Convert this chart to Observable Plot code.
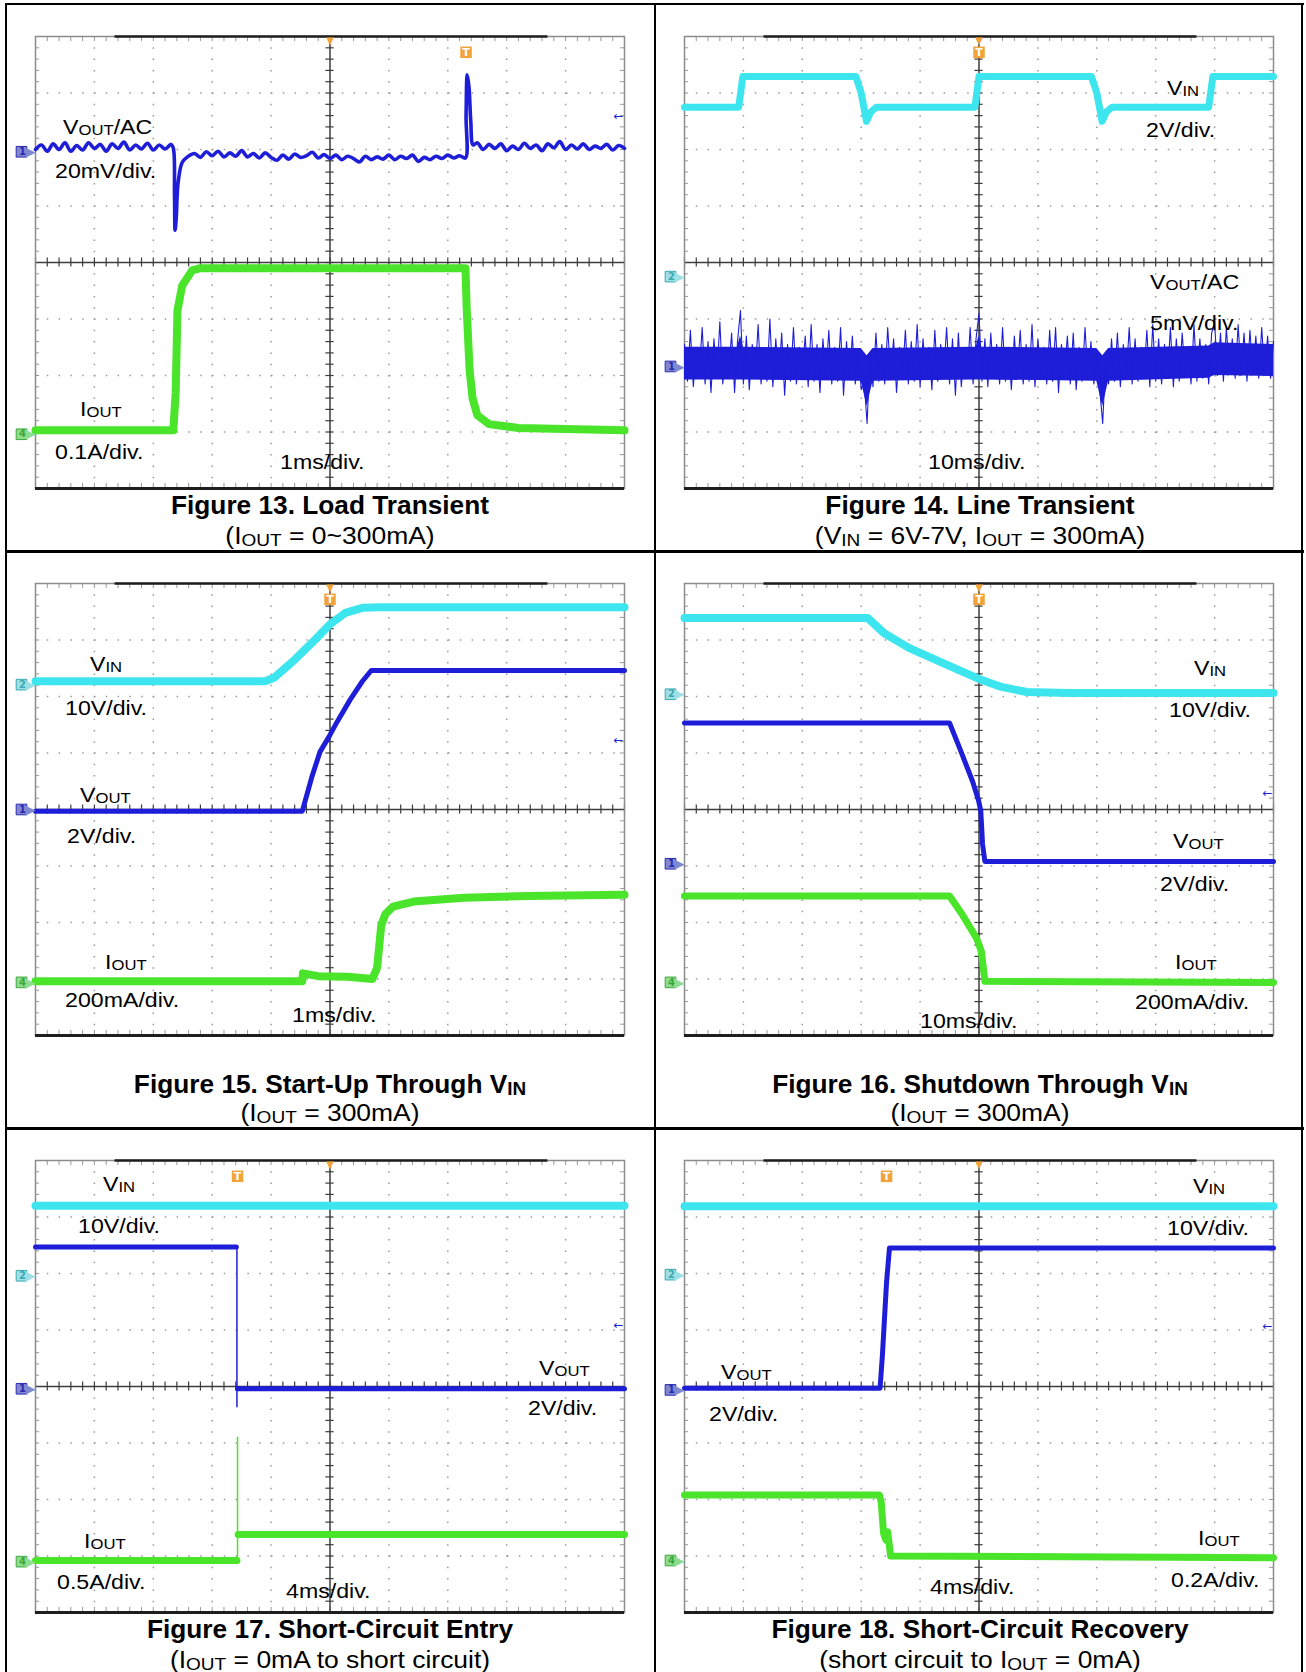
<!DOCTYPE html>
<html><head><meta charset="utf-8">
<script src="https://cdn.jsdelivr.net/npm/d3@7"></script>
<script src="https://cdn.jsdelivr.net/npm/@observablehq/plot@0.6"></script>
<style>
body{margin:0;background:#fff;}
#page{position:relative;width:1306px;height:1672px;overflow:hidden;background:#fff;font-family:"Liberation Sans",Arial,Helvetica,sans-serif;color:#000;}
.rule{position:absolute;background:#000;}
.lab{position:absolute;white-space:nowrap;line-height:1;font-size:20.5px;transform-origin:0 50%;transform:translateY(-50%) scaleX(1.13);}
.sub{font-size:0.72em;position:relative;top:0.1em;}
.cap{position:absolute;white-space:nowrap;line-height:1;font-weight:bold;font-size:25px;transform-origin:50% 50%;transform:translate(-50%,-50%) scaleX(1.05);}
.subcap{position:absolute;white-space:nowrap;line-height:1;font-size:23px;transform-origin:50% 50%;transform:translate(-50%,-50%) scaleX(1.15);}
</style></head><body><div id="page"></div>
<script>
// ---------- colours ----------
const CYAN = "#3de6ef", BLUE = "#1e1ed8", GREEN = "#4ae42a", ORANGE = "#f2a33a";

// ---------- Figure 13: Load transient (divisions: x 0..10, y -4..4) ----------
const fig13Vout = [[0,2.0],[0.1,2.08],[0.2,1.97],[0.3,2.1],[0.4,2.0],[0.5,2.12],[0.6,1.97],[0.7,2.07],[0.8,1.99],[0.9,2.12],[1.0,2.02],[1.1,2.09],[1.2,1.97],[1.3,2.1],[1.4,2.02],[1.5,2.13],[1.6,1.99],[1.7,2.08],[1.8,2.01],[1.9,2.11],[2.0,1.99],[2.1,2.08],[2.2,2.01],[2.3,2.09],[2.34,2.02],
[2.36,1.2],[2.37,0.57],[2.39,0.8],[2.42,1.4],[2.49,1.77],[2.58,1.87],[2.7,1.93],[2.8,1.86],[2.9,1.96],[3.0,1.89],[3.1,1.97],[3.2,1.87],[3.3,1.94],[3.4,1.88],[3.5,1.98],[3.6,1.87],[3.7,1.93],[3.8,1.85],[3.9,1.94],[4.0,1.86],[4.1,1.81],[4.2,1.9],[4.3,1.83],[4.4,1.92],[4.5,1.86],[4.6,1.89],[4.7,1.95],[4.8,1.85],[4.9,1.91],[5.0,1.84],[5.1,1.9],[5.2,1.82],[5.3,1.88],[5.4,1.84],[5.5,1.78],[5.6,1.88],[5.7,1.82],[5.8,1.87],[5.9,1.83],[6.0,1.9],[6.1,1.82],[6.2,1.88],[6.3,1.84],[6.4,1.9],[6.5,1.79],[6.6,1.86],[6.7,1.82],[6.8,1.88],[6.9,1.84],[7.0,1.9],[7.1,1.85],[7.2,1.89],[7.3,1.85],
[7.31,2.6],[7.33,3.32],[7.36,3.1],[7.39,2.5],[7.43,2.08],[7.5,2.12],[7.6,2.0],[7.7,2.09],[7.8,2.02],[7.9,2.1],[8.0,1.98],[8.1,2.06],[8.2,2.0],[8.3,2.11],[8.4,2.02],[8.5,2.08],[8.6,1.98],[8.7,2.1],[8.8,2.03],[8.9,2.14],[9.0,2.0],[9.1,2.08],[9.2,2.01],[9.3,2.1],[9.4,2.0],[9.5,2.06],[9.6,2.02],[9.7,2.09],[9.8,1.99],[9.9,2.07],[10,2.02]];
const fig13Iout = [[0,-2.97],[2.34,-2.97],[2.38,-2.3],[2.41,-0.85],[2.49,-0.41],[2.66,-0.14],[2.8,-0.1],[7.3,-0.1],[7.32,-0.8],[7.37,-1.9],[7.42,-2.4],[7.5,-2.7],[7.7,-2.86],[8.2,-2.93],[10,-2.97]];

// ---------- Figure 14: Line transient ----------
const fig14Vin = [[0,2.75],[0.92,2.75],[0.99,3.29],[2.91,3.29],[3.0,3.0],[3.09,2.5],[3.16,2.66],[3.26,2.75],[4.93,2.75],[5.0,3.29],[6.91,3.29],[7.0,3.0],[7.09,2.5],[7.16,2.66],[7.26,2.75],[8.9,2.75],[8.97,3.29],[10,3.29]];
// V_OUT/AC noise samples, one every 0.05 div
const fig14VoutNoise = [
-1.45,-2.10,-1.20,-2.20,-1.50,-2.00,-1.15,-2.15,-1.40,-2.30,-1.35,-2.05,-1.05,-2.15,-1.50,-1.95,-1.25,-2.30,-1.40,-0.85,
-2.15,-1.30,-2.25,-1.45,-2.00,-1.10,-2.15,-1.50,-2.10,-1.00,-2.20,-1.35,-2.05,-1.25,-2.35,-1.45,-2.10,-1.15,-2.15,-1.50,
-1.95,-1.30,-2.20,-1.10,-2.10,-1.45,-2.30,-1.35,-2.05,-1.20,-2.15,-1.50,-2.10,-1.15,-2.35,-1.40,-2.05,-1.30,-2.15,-1.55,
-2.25,-2.10,-2.85,-1.65,-2.20,-1.25,-2.10,-1.45,-2.15,-1.15,-2.00,-1.35,-2.30,-1.50,-2.05,-1.20,-2.15,-1.40,-2.10,-1.10,
-2.20,-1.35,-2.05,-1.50,-2.25,-1.20,-2.10,-1.45,-2.00,-1.15,-2.15,-1.35,-2.35,-1.25,-2.20,-1.50,-2.05,-1.15,-2.15,-1.35,
-0.90,-2.10,-1.35,-2.20,-1.25,-2.05,-1.45,-2.15,-1.15,-2.10,-1.50,-2.25,-1.30,-2.00,-1.20,-2.15,-1.45,-2.10,-1.10,-2.20,
-1.35,-2.05,-1.50,-2.15,-1.20,-2.10,-1.15,-2.30,-1.45,-2.00,-1.30,-2.15,-1.25,-2.25,-1.50,-2.10,-1.15,-2.05,-1.40,-2.15,
-1.55,-2.25,-2.85,-1.70,-2.15,-1.35,-2.10,-1.25,-2.20,-1.45,-2.05,-1.15,-2.15,-1.35,-2.10,-1.50,-2.00,-1.20,-2.20,-1.10,
-2.10,-1.35,-2.15,-1.45,-2.05,-1.15,-2.20,-1.35,-2.10,-1.25,-2.00,-1.50,-2.15,-1.10,-2.10,-1.35,-2.05,-1.45,-2.15,-1.25,
-1.05,-2.00,-1.25,-2.10,-1.15,-1.95,-1.35,-2.05,-1.10,-2.00,-1.25,-2.10,-1.20,-1.95,-1.30,-2.05,-1.15,-2.00,-1.30,-2.05,-1.40];
const fig14VoutCore = [[0,-1.5,-2.08],[0.9,-1.5,-2.08],[0.95,-1.3,-2.08],[1.0,-1.5,-2.08],[3.0,-1.52,-2.1],[3.1,-1.65,-2.55],[3.2,-1.52,-2.1],[4.95,-1.5,-2.08],[5.0,-1.3,-2.08],[5.05,-1.5,-2.08],[7.0,-1.52,-2.1],[7.1,-1.65,-2.55],[7.2,-1.52,-2.1],[8.9,-1.48,-2.05],[9.0,-1.42,-2.0],[10,-1.45,-2.02]];

// ---------- Figure 15: Start-up through VIN ----------
const fig15Vin = [[0,2.27],[3.9,2.27],[4.05,2.33],[4.41,2.66],[4.76,3.02],[5.0,3.28],[5.26,3.48],[5.55,3.57],[5.85,3.58],[10,3.58]];
const fig15Vout = [[0,-0.03],[4.53,-0.03],[4.69,0.57],[4.83,1.02],[5.0,1.32],[5.12,1.55],[5.34,1.94],[5.55,2.27],[5.7,2.46],[10,2.46]];
const fig15Iout = [[0,-3.04],[4.53,-3.04],[4.54,-2.9],[4.8,-2.95],[5.3,-2.96],[5.72,-3.0],[5.8,-2.8],[5.87,-2.05],[5.94,-1.85],[6.07,-1.72],[6.42,-1.63],[7.27,-1.56],[8.34,-1.53],[10,-1.51]];

// ---------- Figure 16: Shutdown through VIN ----------
const fig16Vin = [[0,3.39],[3.11,3.39],[3.39,3.12],[3.81,2.86],[4.39,2.59],[4.98,2.32],[5.38,2.17],[5.81,2.08],[6.52,2.06],[10,2.06]];
const fig16Vout = [[0,1.53],[4.5,1.53],[4.67,1.09],[4.89,0.5],[4.99,0.17],[5.03,-0.02],[5.06,-0.61],[5.1,-0.92],[10,-0.92]];
const fig16Iout = [[0,-1.53],[4.5,-1.53],[4.71,-1.85],[4.96,-2.28],[5.04,-2.51],[5.1,-3.04],[10,-3.06]];

// ---------- Figure 17: Short-circuit entry ----------
const fig17Vin = [[0,3.2],[10,3.2]];
const fig17Vout = [[0,2.47],[3.41,2.47]];
const fig17VoutEdge = [[3.42,2.47],[3.42,-0.36]];
const fig17VoutAfter = [[3.43,-0.04],[10,-0.04]];
const fig17Iout = [[0,-3.08],[3.42,-3.08]];
const fig17IoutEdge = [[3.43,-3.08],[3.43,-0.9]];
const fig17IoutAfter = [[3.44,-2.62],[10,-2.62]];

// ---------- Figure 18: Short-circuit recovery ----------
const fig18Vin = [[0,3.19],[10,3.19]];
const fig18Vout = [[0,-0.03],[3.32,-0.03],[3.36,0.55],[3.43,1.84],[3.48,2.45],[10,2.45]];
const fig18Iout = [[0,-1.92],[3.31,-1.92],[3.34,-2.05],[3.38,-2.6],[3.42,-2.72],[3.45,-2.57],[3.5,-3.0],[10,-3.03]];

// ---------- text ----------
const labels13 = [["V_{OUT}/AC",63,127],["20mV/div.",55,171],["I_{OUT}",80,409],["0.1A/div.",55,452],["1ms/div.",280,462]];
const labels14 = [["V_{IN}",1167,88],["2V/div.",1146,130],["V_{OUT}/AC",1150,282],["5mV/div.",1150,323],["10ms/div.",928,462]];
const labels15 = [["V_{IN}",90,664],["10V/div.",65,708],["V_{OUT}",80,795],["2V/div.",67,836],["I_{OUT}",105,962],["200mA/div.",65,1000],["1ms/div.",292,1015]];
const labels16 = [["V_{IN}",1194,668],["10V/div.",1169,710],["V_{OUT}",1173,841],["2V/div.",1160,884],["I_{OUT}",1175,962],["200mA/div.",1135,1002],["10ms/div.",920,1021]];
const labels17 = [["V_{IN}",103,1184],["10V/div.",78,1226],["V_{OUT}",539,1368],["2V/div.",528,1408],["I_{OUT}",84,1541],["0.5A/div.",57,1582],["4ms/div.",286,1591]];
const labels18 = [["V_{IN}",1193,1186],["10V/div.",1167,1228],["V_{OUT}",721,1372],["2V/div.",709,1414],["I_{OUT}",1198,1538],["0.2A/div.",1171,1580],["4ms/div.",930,1587]];
const captionTitles = ["Figure 13. Load Transient","Figure 14. Line Transient","Figure 15. Start-Up Through V_{IN}","Figure 16. Shutdown Through V_{IN}","Figure 17. Short-Circuit Entry","Figure 18. Short-Circuit Recovery"];
const captionSubs = ["(I_{OUT} = 0~300mA)","(V_{IN} = 6V-7V, I_{OUT} = 300mA)","(I_{OUT} = 300mA)","(I_{OUT} = 300mA)","(I_{OUT} = 0mA to short circuit)","(short circuit to I_{OUT} = 0mA)"];

// ---------- layout ----------
const FW = 589, FH = 452, ML = 30, MR = 14, MT = 8, MB = 8;
const gridX = [1,2,3,4,6,7,8,9], gridY = [-3,-2,-1,1,2,3];
const minorX = d3.range(0, 51).map(i => i / 5), minorY = d3.range(0, 41).map(i => -4 + i / 5);

const tr = (data, color, w, curve) => ({data, color, w, curve});
const panels = [
  {left:35, top:36, labels:labels13, capX:330, capY:505, subY:536,
   traces:[tr(fig13Iout,GREEN,8), tr(fig13Vout,BLUE,3.6,"catmull-rom")],
   chans:[["1",1.96,"#8088d0","#2a2ab0"],["4",-3.04,"#8fdc8f","#3aa83a"]], trig:7.31, arrow:2.59},
  {left:684, top:36, labels:labels14, capX:980, capY:505, subY:536,
   traces:[tr(fig14Vin,CYAN,7)], noise:true,
   chans:[["2",-0.25,"#9fe0e6","#3aa9b0"],["1",-1.84,"#8088d0","#2a2ab0"]], trig:5, arrow:null},
  {left:35, top:582.5, labels:labels15, capX:330, capY:1084, subY:1113,
   traces:[tr(fig15Vin,CYAN,8), tr(fig15Vout,BLUE,5), tr(fig15Iout,GREEN,8)],
   chans:[["2",2.21,"#9fe0e6","#3aa9b0"],["1",0,"#8088d0","#2a2ab0"],["4",-3.06,"#8fdc8f","#3aa83a"]], trig:5, arrow:1.22},
  {left:684, top:582.5, labels:labels16, capX:980, capY:1084, subY:1113,
   traces:[tr(fig16Vin,CYAN,8), tr(fig16Vout,BLUE,5), tr(fig16Iout,GREEN,7)],
   chans:[["2",2.04,"#9fe0e6","#3aa9b0"],["1",-0.96,"#8088d0","#2a2ab0"],["4",-3.06,"#8fdc8f","#3aa83a"]], trig:5, arrow:0.29},
  {left:35, top:1159.5, labels:labels17, capX:330, capY:1629, subY:1660,
   traces:[tr(fig17Vin,CYAN,8), tr(fig17Vout,BLUE,5), tr(fig17VoutEdge,BLUE,1.5), tr(fig17VoutAfter,BLUE,5),
           tr(fig17Iout,GREEN,7), tr(fig17IoutEdge,GREEN,1.5), tr(fig17IoutAfter,GREEN,7)],
   chans:[["2",1.96,"#9fe0e6","#3aa9b0"],["1",-0.04,"#8088d0","#2a2ab0"],["4",-3.1,"#8fdc8f","#3aa83a"]], trig:3.43, arrow:1.09},
  {left:684, top:1159.5, labels:labels18, capX:980, capY:1629, subY:1660,
   traces:[tr(fig18Vin,CYAN,8), tr(fig18Vout,BLUE,5), tr(fig18Iout,GREEN,7)],
   chans:[["2",1.98,"#9fe0e6","#3aa9b0"],["1",-0.06,"#8088d0","#2a2ab0"],["4",-3.08,"#8fdc8f","#3aa83a"]], trig:3.43, arrow:1.07}
];

function scope(p) {
  const marks = [
    Plot.ruleX(gridX, {stroke:"#9a9a9a", strokeWidth:1.5, strokeDasharray:"1.5,9.8"}),
    Plot.ruleY(gridY, {stroke:"#9a9a9a", strokeWidth:1.5, strokeDasharray:"1.5,10.3"}),
    Plot.ruleX(minorX, {y1:-4, y2:-3.91, stroke:"#999"}),
    Plot.ruleX(minorX, {y1:3.91, y2:4, stroke:"#999"}),
    Plot.ruleY(minorY, {x1:0, x2:0.07, stroke:"#999"}),
    Plot.ruleY(minorY, {x1:9.93, x2:10, stroke:"#999"}),
    Plot.ruleX([5], {stroke:"#3c3c3c", strokeWidth:1.5}),
    Plot.ruleY([0], {stroke:"#3c3c3c", strokeWidth:1.5}),
    Plot.ruleX(minorX, {y1:-0.08, y2:0.08, stroke:"#3c3c3c", strokeWidth:1.2}),
    Plot.ruleY(minorY, {x1:4.93, x2:5.07, stroke:"#3c3c3c", strokeWidth:1.2}),
    Plot.frame({stroke:"#8c8c8c", strokeWidth:1.5}),
    Plot.ruleY([-4], {stroke:"#1e1e1e", strokeWidth:3}),
    Plot.ruleY([4], {x1:1.35, x2:8.7, stroke:"#1e1e1e", strokeWidth:2.5})
  ];
  if (p.noise) {
    marks.push(Plot.areaY(fig14VoutCore, {x:d=>d[0], y1:d=>d[1], y2:d=>d[2], fill:BLUE}));
    marks.push(Plot.line(fig14VoutNoise, {x:(d,i)=>i*0.05, y:d=>d, stroke:BLUE, strokeWidth:1.1}));
  }
  for (const t of p.traces) {
    marks.push(Plot.line(t.data, {x:d=>d[0], y:d=>d[1], stroke:t.color, strokeWidth:t.w, strokeLinejoin:"round", curve:t.curve || "linear"}));
  }
  for (const [ch, y, fill, stroke] of p.chans) {
    marks.push(Plot.dot([y], {x:0, y:d=>d, dx:-14, symbol:"square", r:6, fill, stroke, strokeWidth:1}));
    marks.push(Plot.text([y], {x:0, y:d=>d, dx:-5, text:()=>"\u25B6", fill, fontSize:13, fontFamily:"DejaVu Sans"}));
    marks.push(Plot.text([y], {x:0, y:d=>d, dx:-13, text:()=>ch, fill:stroke, fontSize:10, fontWeight:"bold", fontFamily:"DejaVu Sans"}));
  }
  marks.push(Plot.text([5], {x:d=>d, y:4, dy:4, text:()=>"\u25BC", fill:ORANGE, fontSize:10, fontFamily:"DejaVu Sans"}));
  marks.push(Plot.dot([p.trig], {x:d=>d, y:3.72, symbol:"square", r:6.5, fill:ORANGE}));
  marks.push(Plot.text([p.trig], {x:d=>d, y:3.72, text:()=>"T", fill:"#fff", fontSize:11, fontWeight:"bold", fontFamily:"DejaVu Sans"}));
  if (p.arrow != null) {
    marks.push(Plot.text([p.arrow], {x:10, y:d=>d, dx:-6, text:()=>"\u2190", fill:BLUE, fontSize:12, fontFamily:"DejaVu Sans"}));
  }
  return Plot.plot({
    width: ML + FW + MR, height: MT + FH + MB,
    marginLeft: ML, marginRight: MR, marginTop: MT, marginBottom: MB,
    x: {domain:[0,10], axis:null}, y: {domain:[-4,4], axis:null},
    style: {background:"transparent", overflow:"visible"},
    marks
  });
}

const page = document.getElementById("page");
function rule(l, t, w, h) { const d = document.createElement("div"); d.className = "rule"; Object.assign(d.style, {left:l+"px", top:t+"px", width:w+"px", height:h+"px"}); page.appendChild(d); }
rule(4.5, 2.5, 2.5, 1680); rule(1300.5, 2.5, 2.5, 1680); rule(4.5, 2.5, 1299, 2.5);
rule(653.8, 2.5, 2.5, 1680); rule(4.5, 550, 1299, 2.5); rule(4.5, 1127, 1299, 2.5);

const fmt = s => s.replace(/_\{([^}]*)\}/g, '<span class="sub">$1</span>');
function text(cls, s, x, y) { const d = document.createElement("div"); d.className = cls; d.innerHTML = fmt(s); d.style.left = x + "px"; d.style.top = y + "px"; page.appendChild(d); }

panels.forEach((p, i) => {
  const svg = scope(p);
  svg.style.position = "absolute";
  svg.style.left = (p.left - ML) + "px";
  svg.style.top = (p.top - MT) + "px";
  page.appendChild(svg);
  for (const [s, x, y] of p.labels) text("lab", s, x, y);
  text("cap", captionTitles[i], p.capX, p.capY);
  text("subcap", captionSubs[i], p.capX, p.subY);
});
</script></body></html>
